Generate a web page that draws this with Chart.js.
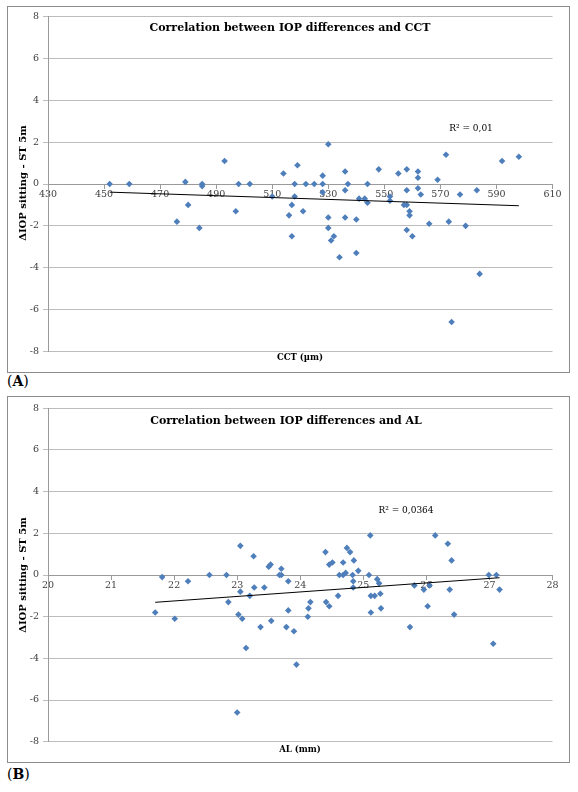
<!DOCTYPE html>
<html>
<head>
<meta charset="utf-8">
<script src="https://cdn.jsdelivr.net/npm/chart.js@4.4.1/dist/chart.umd.min.js"></script>
<style>
  body { margin: 0; background: #fff; width: 578px; height: 792px; position: relative; overflow: hidden; font-family: 'DejaVu Serif', serif; }
  .panel { position: absolute; left: 7px; width: 563px; height: 367px; border: 1px solid #8c8c8c; box-sizing: border-box; }
  .panel canvas { position: absolute; left: 0; top: 0; }
  .tag { position: absolute; left: 7px; font-size: 14px; line-height: 16px; color: #000; }
</style>
</head>
<body>
<div class="panel" style="top:6px"><canvas id="chartA" width="561" height="365"></canvas></div>
<div class="tag" style="top:373px">(<b>A</b>)</div>
<div class="panel" style="top:396px"><canvas id="chartB" width="561" height="365"></canvas></div>
<div class="tag" style="top:766px">(<b>B</b>)</div>
<script>
// Panel A: CCT (µm) vs ΔIOP sitting - ST 5m
const cctX = [452, 459, 476, 479, 480, 484, 485, 485, 493, 497, 498, 502, 510, 514, 516, 517, 517, 518, 518, 519,
  521, 522, 525, 528, 528, 528, 530, 530, 530, 531, 532, 534, 536, 536, 536, 537, 540, 540, 541, 543,
  544, 544, 548, 552, 552, 555, 557, 558, 558, 558, 558, 559, 559, 560, 562, 562, 562, 563, 566, 569,
  572, 573, 574, 577, 579, 583, 584, 592, 598]
const cctY = [0, 0, -1.8, 0.1, -1.0, -2.1, 0, -0.1, 1.1, -1.3, 0, 0, -0.6, 0.5, -1.5, -1.0, -2.5, 0, -0.6, 0.9,
  -1.3, 0, 0, 0.4, 0, -0.4, 1.9, -1.6, -2.1, -2.7, -2.5, -3.5, 0.6, -0.3, -1.6, 0, -1.7, -3.3, -0.7, -0.7,
  -0.9, 0, 0.7, -0.8, -0.6, 0.5, -1.0, -1.0, 0.7, -0.3, -2.2, -1.3, -1.5, -2.5, 0.6, 0.3, -0.2, -0.5, -1.9, 0.2,
  1.4, -1.8, -6.6, -0.5, -2.0, -0.3, -4.3, 1.1, 1.3]
const cctTrendX = [452, 598]
const cctTrendY = [-0.39, -1.04]
const cctR2 = 'R² = 0,01'

// Panel B: AL (mm) vs ΔIOP sitting - ST 5m
const alX = [21.70, 21.81, 22.01, 22.22, 22.56, 22.83, 22.86, 23.00, 23.02, 23.05, 23.05, 23.08, 23.14, 23.20, 23.26, 23.27, 23.37, 23.43,
  23.50, 23.53, 23.54, 23.67, 23.70, 23.70, 23.78, 23.81, 23.81, 23.90, 23.94, 24.12, 24.13, 24.16, 24.40, 24.41, 24.46, 24.46,
  24.51, 24.60, 24.62, 24.68, 24.68, 24.72, 24.74, 24.79, 24.83, 24.84, 24.84, 24.85, 24.92, 25.09, 25.11, 25.12, 25.12, 25.18,
  25.22, 25.25, 25.27, 25.28, 25.74, 25.81, 25.96, 26.02, 26.05, 26.14, 26.34, 26.37, 26.40, 26.44, 26.99, 27.06, 27.11, 27.16]
const alY = [-1.8, -0.1, -2.1, -0.3, 0, 0, -1.3, -6.6, -1.9, 1.4, -0.8, -2.1, -3.5, -1.0, 0.9, -0.6, -2.5, -0.6,
  0.4, 0.5, -2.2, 0, 0, 0.3, -2.5, -0.3, -1.7, -2.7, -4.3, -2.0, -1.6, -1.3, 1.1, -1.3, -1.5, 0.5,
  0.6, -1.0, 0, 0, 0.6, 0.1, 1.3, 1.1, 0, -0.3, -0.6, 0.7, 0.2, 0, 1.9, -1.0, -1.8, -1.0,
  -0.2, -0.4, -0.9, -1.6, -2.5, -0.5, -0.7, -1.5, -0.5, 1.9, 1.5, -0.7, 0.7, -1.9, 0, -3.3, 0, -0.7]
const alTrendX = [21.70, 27.16]
const alTrendY = [-1.31, -0.13]
const alR2 = 'R² = 0,0364'

const yMin = -8, yMax = 8, yStep = 2

const serif = "'DejaVu Serif', serif"
const pointColor = '#4f7fbb'

const toPoints = (xs, ys) => xs.map((x, i) => ({ x, y: ys[i] }))

// Excel-style overlay texts (title inside plot, R² label, axis titles)
const overlayText = {
  id: 'overlayText',
  afterDraw(chart, args, opts) {
    const ctx = chart.ctx
    ctx.save()
    ctx.fillStyle = '#000'
    ctx.textBaseline = 'middle'
    ctx.textAlign = 'center'
    opts.items.forEach(it => {
      ctx.font = it.font
      ctx.save()
      ctx.translate(it.x, it.y)
      if (it.rotate) ctx.rotate(it.rotate)
      ctx.fillText(it.text, 0, 0)
      ctx.restore()
    })
    ctx.restore()
  }
}

const makeChart = (canvasId, cfg) => new Chart(document.getElementById(canvasId), {
  type: 'scatter',
  data: {
    datasets: [
      {
        label: 'data',
        data: toPoints(cfg.xs, cfg.ys),
        pointStyle: 'rectRot',
        pointRadius: 3.3,
        backgroundColor: pointColor,
        borderColor: pointColor,
        borderWidth: 0,
        order: 1
      },
      {
        label: 'trend',
        data: toPoints(cfg.trendX, cfg.trendY),
        showLine: true,
        borderColor: '#000',
        borderWidth: 1,
        pointRadius: 0,
        order: 0
      }
    ]
  },
  options: {
    responsive: false,
    animation: false,
    layout: { padding: { left: 0, right: 16.5, top: cfg.padTop, bottom: cfg.padBottom } },
    plugins: {
      legend: { display: false },
      tooltip: { enabled: false },
      overlayText: { items: cfg.texts }
    },
    scales: {
      x: {
        type: 'linear',
        position: { y: 0 },
        min: cfg.xMin,
        max: cfg.xMax,
        ticks: {
          stepSize: cfg.xStep,
          padding: 1,
          color: '#404040',
          font: { family: serif, size: 9.5 },
          maxRotation: 0
        },
        grid: { drawOnChartArea: false, tickLength: 4, color: '#9a9a9a' },
        border: { color: '#9a9a9a' }
      },
      y: {
        min: yMin,
        max: yMax,
        ticks: {
          stepSize: yStep,
          padding: 4,
          color: '#404040',
          font: { family: serif, size: 9.5 }
        },
        grid: { color: '#bdbdbd', tickLength: 5 },
        border: { color: '#9a9a9a' },
        afterFit: scale => { scale.width = 40 }
      }
    }
  },
  plugins: [overlayText]
})

const yTitle = 'ΔIOP sitting - ST 5m'

makeChart('chartA', {
  xs: cctX, ys: cctY, trendX: cctTrendX, trendY: cctTrendY,
  xMin: 430, xMax: 610, xStep: 20,
  padTop: 8.3, padBottom: 20.7,
  texts: [
    { text: 'Correlation between IOP differences and CCT', x: 282, y: 21, font: `bold 11px ${serif}` },
    { text: cctR2, x: 463, y: 122, font: `9px ${serif}` },
    { text: 'CCT (µm)', x: 292, y: 351, font: `bold 8.5px ${serif}` },
    { text: yTitle, x: 15, y: 176, font: `bold 10px ${serif}`, rotate: -Math.PI / 2 }
  ]
})

makeChart('chartB', {
  xs: alX, ys: alY, trendX: alTrendX, trendY: alTrendY,
  xMin: 20, xMax: 28, xStep: 1,
  padTop: 11.3, padBottom: 20.3,
  texts: [
    { text: 'Correlation between IOP differences and AL', x: 278, y: 24, font: `bold 11px ${serif}` },
    { text: alR2, x: 398, y: 114, font: `9px ${serif}` },
    { text: 'AL (mm)', x: 292, y: 353, font: `bold 8.5px ${serif}` },
    { text: yTitle, x: 15, y: 178, font: `bold 10px ${serif}`, rotate: -Math.PI / 2 }
  ]
})
</script>
</body>
</html>
